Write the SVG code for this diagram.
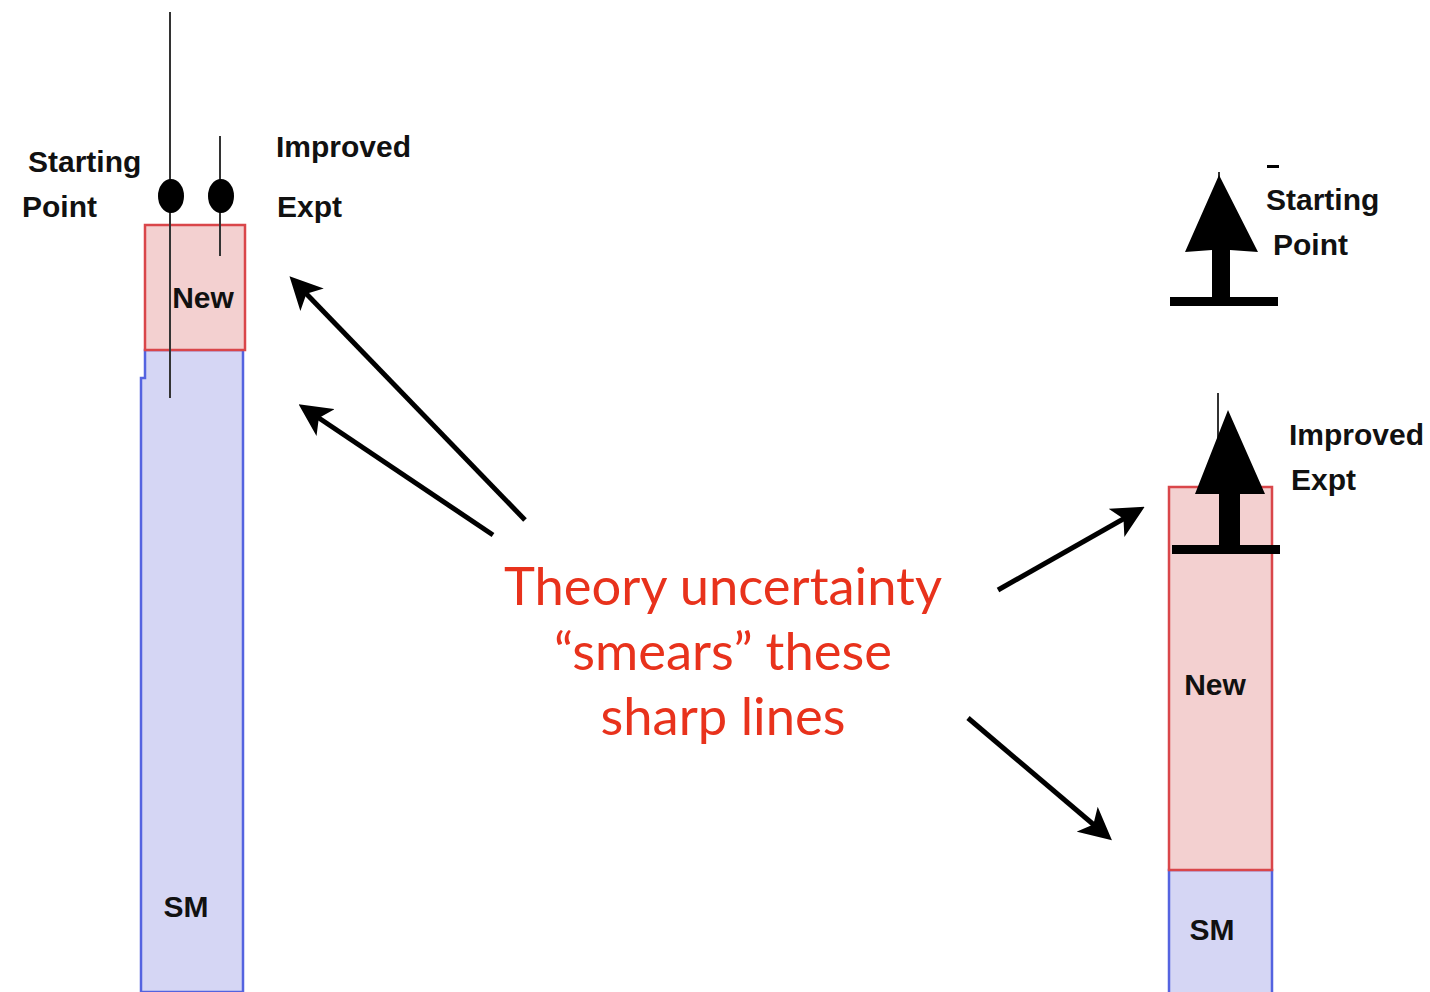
<svg xmlns="http://www.w3.org/2000/svg" width="1430" height="992" viewBox="0 0 1430 992">
<style>
.lbl{font-family:"Liberation Sans",Arial,sans-serif;font-weight:bold;font-size:30px;fill:#111}
.big{font-family:Lato,"Open Sans",sans-serif;font-size:52.5px;fill:#e8321c;text-anchor:middle}
.new{fill:#f3d0d0;stroke:#d9464a;stroke-width:2.5}
.sm{fill:#d5d6f4;stroke:#5463e0;stroke-width:2.5}
.conn{stroke:#000;stroke-width:5;fill:none}
</style>
<defs>
<marker id="ah" viewBox="0 0 10 10" refX="8" refY="5" markerWidth="6.5" markerHeight="6.5" orient="auto" markerUnits="strokeWidth">
<path d="M0,0 L10,5 L0,10 L2.5,5 z" fill="#000"/>
</marker>
</defs>
<rect width="1430" height="992" fill="#fff"/>

<g id="left-column">
<path class="sm" d="M145,350 H243 V992 H141 V378 H145 Z"/>
<rect class="new" x="145" y="225" width="100" height="125"/>
<line x1="170" y1="12" x2="170" y2="398" stroke="#333" stroke-width="2"/>
<line x1="220" y1="136" x2="220" y2="256" stroke="#333" stroke-width="2"/>
<ellipse cx="171" cy="196" rx="13" ry="17" fill="#000"/>
<ellipse cx="221" cy="196" rx="13" ry="17" fill="#000"/>
<text class="lbl" x="28" y="172">Starting</text>
<text class="lbl" x="22" y="217">Point</text>
<text class="lbl" x="276" y="157">Improved</text>
<text class="lbl" x="277" y="217">Expt</text>
<text class="lbl" x="203" y="308" text-anchor="middle">New</text>
<text class="lbl" x="186" y="917" text-anchor="middle">SM</text>
</g>

<g id="right-column">
<rect class="sm" x="1169" y="870" width="103" height="130"/>
<rect class="new" x="1169" y="487" width="103" height="383"/>
<line x1="1219" y1="172" x2="1219" y2="250" stroke="#333" stroke-width="2"/>
<path d="M1219,175 L1258,252 L1230,250 V300 H1212 V250 L1185,252 Z" fill="#000"/>
<rect x="1170" y="297" width="108" height="9" fill="#000"/>
<rect x="1267" y="165" width="12" height="3" fill="#000"/>
<line x1="1218" y1="393" x2="1218" y2="490" stroke="#333" stroke-width="2"/>
<path d="M1228,410 L1265,494 L1240,494 V548 H1219 V494 L1195,494 Z" fill="#000"/>
<rect x="1172" y="545" width="108" height="9" fill="#000"/>
<text class="lbl" x="1266" y="210">Starting</text>
<text class="lbl" x="1273" y="255">Point</text>
<text class="lbl" x="1289" y="445">Improved</text>
<text class="lbl" x="1291" y="490">Expt</text>
<text class="lbl" x="1215" y="695" text-anchor="middle">New</text>
<text class="lbl" x="1212" y="940" text-anchor="middle">SM</text>
</g>

<g id="label">
<text class="big" x="723" y="605">Theory uncertainty</text>
<text class="big" x="723" y="670">“smears” these</text>
<text class="big" x="723" y="735">sharp lines</text>
</g>

<g id="connectors">
<line class="conn" x1="525" y1="520" x2="294" y2="281" marker-end="url(#ah)"/>
<line class="conn" x1="493" y1="535" x2="304" y2="408" marker-end="url(#ah)"/>
<line class="conn" x1="998" y1="590" x2="1139" y2="510" marker-end="url(#ah)"/>
<line class="conn" x1="968" y1="718" x2="1107" y2="836" marker-end="url(#ah)"/>
</g>
</svg>
